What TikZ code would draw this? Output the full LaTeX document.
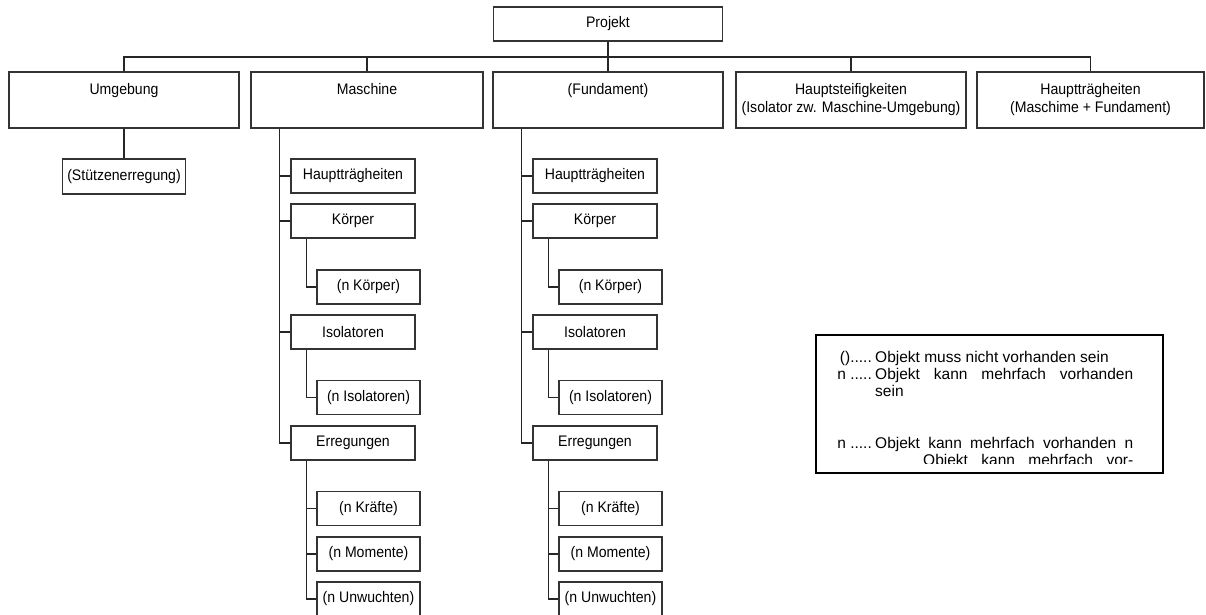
\documentclass[tikz,border=0pt]{standalone}
\usepackage{fontspec}
\setmainfont{Liberation Sans}
\newfontfamily\boxfont[FakeStretch=0.92]{Liberation Sans}
\usetikzlibrary{calc}
\begin{document}
\begin{tikzpicture}[x=1pt,y=-1pt,
  box/.style={draw=black!80, line width=1.1pt, inner sep=0pt, font=\boxfont\fontsize{15.3}{18}\selectfont},
  l1/.style={box, minimum width=230pt, minimum height=56pt},
  l2/.style={box, minimum width=124pt, minimum height=34pt},
  l3/.style={box, minimum width=103pt, minimum height=34pt},
  l1lab/.style={anchor=north, yshift=-12pt, inner sep=0pt, align=center, font=\boxfont\fontsize{15.3}{18}\selectfont},
  conn/.style={line width=1.1pt, black!85},
  leg/.style={inner sep=0pt, font=\fontsize{15.5}{18}\selectfont}
]
\useasboundingbox (0,0) rectangle (1206,614);

% top
\node[box, minimum width=229pt, minimum height=34pt] (proj) at (608,24) {Projekt};

% level 1
\node[l1, label={[l1lab]north:{Umgebung}}] (umg) at (124,100) {};
\node[l1, minimum width=232pt, label={[l1lab]north:{Maschine}}] (mas) at (367,100) {};
\node[l1, label={[l1lab]north:{(Fundament)}}] (fund) at (608,100) {};
\node[l1, label={[l1lab]north:{Hauptsteifigkeiten\\(Isolator zw. Maschine-Umgebung)}}] (hs) at (851,100) {};
\node[l1, minimum width=227pt, label={[l1lab]north:{Hauptträgheiten\\(Maschime + Fundament)}}] (ht) at (1090.5,100) {};

\coordinate (bus) at (0,57);
\draw[conn] (umg.north) -- (umg.north |- bus) -- (ht.north |- bus) -- (ht.north);
\draw[conn] (mas.north) -- (mas.north |- bus);
\draw[conn] (hs.north) -- (hs.north |- bus);
\draw[conn] (proj.south) -- (fund.north);

% Umgebung child
\node[box, minimum width=123pt, minimum height=35pt] (stz) at (124,176.5) {(Stützenerregung)};
\draw[conn] (umg.south) -- (stz.north);

% columns
\foreach \p/\a/\b/\q in {m/353/368.5/mas, f/595/610.5/fund}{
  \node[l2] (\p hp) at (\a,176) {Hauptträgheiten};
  \node[l2] (\p kp) at (\a,221) {Körper};
  \node[l3] (\p nk) at (\b,287) {(n Körper)};
  \node[l2] (\p is) at (\a,332) {Isolatoren};
  \node[l3] (\p ni) at (\b,397.5) {(n Isolatoren)};
  \node[l2] (\p er) at (\a,443) {Erregungen};
  \node[l3] (\p kr) at (\b,508.5) {(n Kräfte)};
  \node[l3] (\p mo) at (\b,554) {(n Momente)};
  \node[l3] (\p uw) at (\b,599) {(n Unwuchten)};
  \coordinate (\p T) at ([xshift=-11pt]\p hp.west);
  \coordinate (\p S) at ([xshift=16pt]\p kp.south west);
  \draw[conn] (\p T |- \q.south) -- (\p T |- \p er.west) -- (\p er.west);
  \draw[conn] (\p T |- \p hp.west) -- (\p hp.west);
  \draw[conn] (\p T |- \p kp.west) -- (\p kp.west);
  \draw[conn] (\p T |- \p is.west) -- (\p is.west);
  \draw[conn] (\p S |- \p kp.south) |- (\p nk.west);
  \draw[conn] (\p S |- \p is.south) |- (\p ni.west);
  \draw[conn] (\p S |- \p er.south) |- (\p uw.west);
  \draw[conn] (\p S |- \p kr.west) -- (\p kr.west);
  \draw[conn] (\p S |- \p mo.west) -- (\p mo.west);
}

% legend
\node[draw, line width=2pt, minimum width=347pt, minimum height=138pt, inner sep=0pt] (legend) at (989.5,404) {};
\node[leg, anchor=base east] (la1) at (872,362) {().....};
\node[leg, anchor=base west] (lb1) at (875,362) {Objekt muss nicht vorhanden sein};
\node[leg, anchor=base east] (la2) at (872,379) {n .....};
\node[leg, anchor=base west] (lb2) at (875,379) {\hbox to 258pt{Objekt\hfill kann\hfill mehrfach\hfill vorhanden}};
\node[leg, anchor=base west] (lb3) at (875,396) {sein};
\node[leg, anchor=base east] (la4) at (872,448) {n .....};
\node[leg, anchor=base west] (lb4) at (875,448) {\hbox to 258pt{Objekt\hfill kann\hfill mehrfach\hfill vorhanden\hfill n}};
\begin{scope}
  \clip (816,335) rectangle (1163,463);
  \node[leg, anchor=base west] (lb5) at (923,465) {\hbox to 210pt{Objekt\hfill kann\hfill mehrfach\hfill vor-}};
\end{scope}
\end{tikzpicture}
\end{document}
